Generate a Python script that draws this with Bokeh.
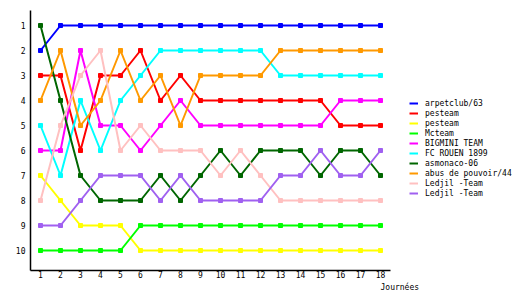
from bokeh.plotting import figure
from bokeh.models import Range1d, Legend, LegendItem, Title, FixedTicker
from bokeh.embed import file_html
from bokeh.resources import INLINE

journees = list(range(1, 19))
names = ["arpetclub/63", "pesteam", "pesteam", "Mcteam", "BIGMINI TEAM",
         "FC ROUEN 1899", "asmonaco-06", "abus de pouvoir/44", "Ledjil -Team", "Ledjil -Team"]
colors = ["#0000FF", "#FF0000", "#FFFF00", "#00FF00", "#FF00FF",
          "#00FFFF", "#006600", "#FF9900", "#FFC0C0", "#A060F0"]

arpetclub = [2, 1, 1, 1, 1, 1, 1, 1, 1, 1, 1, 1, 1, 1, 1, 1, 1, 1]
pesteam_a = [3, 3, 6, 3, 3, 2, 4, 3, 4, 4, 4, 4, 4, 4, 4, 5, 5, 5]
pesteam_b = [7, 8, 9, 9, 9, 10, 10, 10, 10, 10, 10, 10, 10, 10, 10, 10, 10, 10]
mcteam = [10, 10, 10, 10, 10, 9, 9, 9, 9, 9, 9, 9, 9, 9, 9, 9, 9, 9]
bigmini = [6, 6, 2, 5, 5, 6, 5, 4, 5, 5, 5, 5, 5, 5, 5, 4, 4, 4]
fcrouen = [5, 7, 4, 6, 4, 3, 2, 2, 2, 2, 2, 2, 3, 3, 3, 3, 3, 3]
asmonaco = [1, 4, 7, 8, 8, 8, 7, 8, 7, 6, 7, 6, 6, 6, 7, 6, 6, 7]
abus = [4, 2, 5, 4, 2, 4, 3, 5, 3, 3, 3, 3, 2, 2, 2, 2, 2, 2]
ledjil_a = [8, 5, 3, 2, 6, 5, 6, 6, 6, 7, 6, 7, 8, 8, 8, 8, 8, 8]
ledjil_b = [9, 9, 8, 7, 7, 7, 8, 7, 8, 8, 8, 8, 7, 7, 6, 7, 7, 6]

series = [arpetclub, pesteam_a, pesteam_b, mcteam, bigmini,
          fcrouen, asmonaco, abus, ledjil_a, ledjil_b]
rank_ticks = list(range(1, 11))
x_title = "Journées"

FONT = "DejaVu Sans Mono"

# frame spans to the right edge so the legend is drawn inside it;
# the x axis line is limited to the data extent with bounds
p = figure(width=530, height=300, output_backend="svg", toolbar_location=None,
           x_range=Range1d(0.5, 25.5), y_range=Range1d(10.8, 0.4),
           min_border_left=30, min_border_right=0, min_border_top=10,
           min_border_bottom=30)
p.outline_line_color = None
p.xgrid.grid_line_color = None
p.ygrid.grid_line_color = None
p.background_fill_color = "white"
p.border_fill_color = "white"

for ax in (p.xaxis[0], p.yaxis[0]):
    ax.axis_line_color = "black"
    ax.axis_line_width = 1.5
    ax.major_tick_line_color = None
    ax.minor_tick_line_color = None
    ax.major_tick_out = 0
    ax.major_tick_in = 0
    ax.minor_tick_out = 0
    ax.minor_tick_in = 0
    ax.major_label_text_font = FONT
    ax.major_label_text_font_size = "8px"
    ax.major_label_text_color = "black"

p.xaxis.ticker = FixedTicker(ticks=journees)
p.xaxis.bounds = (0.5, 18.5)
p.yaxis.ticker = FixedTicker(ticks=rank_ticks)
p.xaxis.major_label_standoff = 0
p.yaxis.major_label_standoff = 5

items = []
for name, col, vals in zip(names, colors, series):
    r = p.line(journees, vals, line_color=col, line_width=2)
    p.scatter(journees, vals, marker="square", size=4, fill_color=col, line_color=col)
    items.append(LegendItem(label=name, renderers=[r]))

legend = Legend(items=items, location=(379, 72), orientation="vertical",
                label_text_font=FONT, label_text_font_size="8px",
                label_text_color="black", label_height=10, glyph_height=10,
                glyph_width=9, label_standoff=7, spacing=0, padding=0, margin=0,
                border_line_color=None, background_fill_alpha=0)
p.add_layout(legend)

p.add_layout(Title(text=x_title, align="left", offset=350, standoff=0,
                   text_font=FONT, text_font_size="8px", text_font_style="normal",
                   text_color="black"), "below")

open("out.html", "w").write(file_html(p, INLINE))
